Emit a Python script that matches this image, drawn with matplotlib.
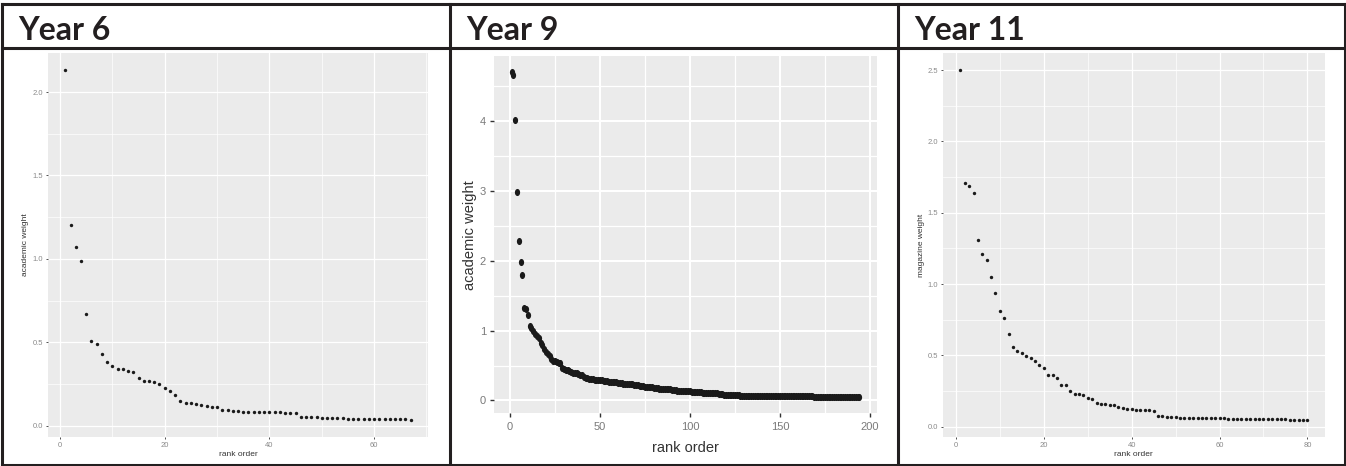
import numpy as np
import matplotlib
matplotlib.use("Agg")
import matplotlib.pyplot as plt
from matplotlib.lines import Line2D
from matplotlib.path import Path
from matplotlib.ticker import MultipleLocator, FormatStrFormatter

# weights sorted by rank, one list per year group
year6_weight = [
    2.13, 1.20, 1.07, 0.99, 0.67, 0.51, 0.49, 0.43, 0.38, 0.36,
    0.34, 0.34, 0.33, 0.32, 0.285, 0.27, 0.265, 0.26, 0.25, 0.227,
    0.21, 0.185, 0.147, 0.137, 0.135, 0.129, 0.124, 0.116, 0.114, 0.112,
    0.096, 0.094, 0.090, 0.086, 0.084, 0.082, 0.081, 0.080, 0.080, 0.079,
    0.079, 0.079, 0.078, 0.077, 0.074, 0.054, 0.052, 0.052, 0.051, 0.048,
    0.046, 0.045, 0.044, 0.043, 0.042, 0.042, 0.041, 0.041, 0.040, 0.040,
    0.039, 0.039, 0.038, 0.038, 0.037, 0.037, 0.036,
]

year9_weight = [
    4.70, 4.66, 4.02, 2.99, 2.29, 1.99, 1.79, 1.33, 1.31, 1.23,
    1.07, 1.04, 0.99, 0.95, 0.93, 0.90, 0.83, 0.79, 0.74, 0.70,
    0.66, 0.63, 0.60, 0.57, 0.56, 0.55, 0.54, 0.53, 0.47, 0.45,
    0.44, 0.43, 0.42, 0.41, 0.40, 0.39, 0.39, 0.38, 0.37, 0.36,
    0.34, 0.32, 0.32, 0.31, 0.31, 0.31, 0.30, 0.30, 0.30, 0.29,
    0.29, 0.28, 0.28, 0.28, 0.27, 0.27, 0.26, 0.26, 0.26, 0.25,
    0.25, 0.25, 0.24, 0.24, 0.24, 0.23, 0.23, 0.23, 0.22, 0.22,
    0.22, 0.21, 0.21, 0.21, 0.20, 0.20, 0.20, 0.19, 0.19, 0.18,
    0.18, 0.18, 0.17, 0.17, 0.17, 0.16, 0.16, 0.16, 0.16, 0.15,
    0.15, 0.15, 0.14, 0.14, 0.14, 0.14, 0.13, 0.13, 0.13, 0.13,
    0.12, 0.12, 0.12, 0.12, 0.12, 0.12, 0.11, 0.11, 0.11, 0.11,
    0.11, 0.11, 0.10, 0.10, 0.10, 0.09, 0.09, 0.09, 0.08, 0.08,
    0.08, 0.08, 0.08, 0.08, 0.075, 0.075, 0.075, 0.070, 0.070, 0.070,
    0.070, 0.070, 0.070, 0.070, 0.070, 0.068, 0.068, 0.068, 0.067, 0.067,
    0.067, 0.066, 0.066, 0.066, 0.065, 0.065, 0.065, 0.064, 0.064, 0.064,
    0.063, 0.063, 0.063, 0.062, 0.062, 0.062, 0.061, 0.061, 0.061, 0.060,
    0.060, 0.060, 0.059, 0.059, 0.059, 0.058, 0.058, 0.058, 0.057, 0.057,
    0.057, 0.056, 0.056, 0.056, 0.055, 0.055, 0.055, 0.054, 0.054, 0.054,
    0.053, 0.053, 0.053, 0.052, 0.052, 0.052, 0.051, 0.051, 0.051, 0.050,
    0.050, 0.050, 0.049, 0.049,
]

year11_weight = [
    2.50, 1.71, 1.69, 1.64, 1.31, 1.21, 1.17, 1.05, 0.94, 0.81,
    0.76, 0.65, 0.56, 0.53, 0.52, 0.495, 0.48, 0.46, 0.435, 0.41,
    0.36, 0.36, 0.34, 0.29, 0.29, 0.25, 0.23, 0.227, 0.22, 0.20,
    0.194, 0.164, 0.160, 0.159, 0.152, 0.152, 0.136, 0.133, 0.121, 0.121,
    0.119, 0.117, 0.117, 0.114, 0.107, 0.072, 0.072, 0.070, 0.065, 0.065,
    0.064, 0.064, 0.063, 0.063, 0.062, 0.060, 0.060, 0.059, 0.059, 0.058,
    0.058, 0.057, 0.057, 0.056, 0.056, 0.055, 0.055, 0.054, 0.054, 0.053,
    0.053, 0.052, 0.052, 0.051, 0.051, 0.050, 0.050, 0.049, 0.049, 0.048,
]

titles = ["Year 6", "Year 9", "Year 11"]
ylabels = ["academic weight", "academic weight", "magazine weight"]
xlabel = "rank order"

W, H = 1346, 466
INK = "#231f20"
fig = plt.figure(figsize=(W / 100, H / 100), dpi=100)


def fx(x):
    return x / W


def fy(y):
    return 1 - y / H


def rule(x0, y0, x1, y1):
    fig.add_artist(Line2D([fx(x0), fx(x1)], [fy(y0), fy(y1)], transform=fig.transFigure,
                          color=INK, lw=2.2, solid_capstyle="projecting"))


# table frame
rule(2, 4, 1345, 4)
rule(2, 465, 1345, 465)
rule(2, 47.5, 1345, 47.5)
for x in (2, 450, 898, 1345):
    rule(x, 4, x, 465)

for x, t in zip((18, 466, 914), titles):
    fig.text(fx(x), fy(39.5), t, family=["Lato", "DejaVu Sans"], weight="bold",
             fontsize=23, color=INK, va="baseline", ha="left")


def gg_limits(n, vals):
    lo, hi = 1, n
    ex = (hi - lo) * 0.05
    vlo, vhi = min(vals), max(vals)
    ey = (vhi - vlo) * 0.05
    return (lo - ex, hi + ex), (vlo - ey, vhi + ey)


def ggpanel(box, vals, xmaj, ymaj, yfmt, small=True):
    l, t, r, b = box
    ax = fig.add_axes([fx(l), fy(b), fx(r - l), (b - t) / H])
    n = len(vals)
    rank = np.arange(1, n + 1)
    (x0, x1), (y0, y1) = gg_limits(n, vals)
    ax.set_xlim(x0, x1)
    ax.set_ylim(y0, y1)
    ax.set_facecolor("#EBEBEB")
    for s in ax.spines.values():
        s.set_visible(False)
    ax.xaxis.set_major_locator(MultipleLocator(xmaj))
    ax.xaxis.set_minor_locator(MultipleLocator(xmaj / 2))
    ax.yaxis.set_major_locator(MultipleLocator(ymaj))
    ax.yaxis.set_minor_locator(MultipleLocator(ymaj / 2))
    ax.yaxis.set_major_formatter(FormatStrFormatter(yfmt))
    ax.set_axisbelow(True)
    if small:
        maj_lw, min_lw = 0.9, 0.5
        tick_fs, lab_fs = 5.5, 6
        fam = ["Liberation Sans", "DejaVu Sans"]
        ax.tick_params(which="major", length=1.6, width=0.6, color="#333333", pad=1.8,
                       labelsize=tick_fs, labelcolor="#8a8a8a")
    else:
        maj_lw, min_lw = 1.5, 0.9
        tick_fs, lab_fs = 8, 10.5
        fam = ["Liberation Sans Narrow", "Liberation Sans", "DejaVu Sans"]
        ax.tick_params(which="major", length=3, width=1.0, color="#333333", pad=3,
                       labelsize=tick_fs, labelcolor="#7a7a7a")
    ax.tick_params(which="minor", length=0)
    ax.grid(which="major", color="white", lw=maj_lw)
    ax.grid(which="minor", color="white", lw=min_lw)
    for lab in ax.get_xticklabels() + ax.get_yticklabels():
        lab.set_family(fam)
    ax.set_xlabel(xlabel, family=fam, fontsize=lab_fs, color="#333333")
    return ax, rank, fam, lab_fs


# Year 6
ax1, r1, fam1, fs1 = ggpanel((48, 53, 428, 437), year6_weight, 20, 0.5, "%.1f")
ax1.scatter(r1, year6_weight, s=6, color="#1a1a1a", lw=0)
ax1.set_ylabel(ylabels[0], family=fam1, fontsize=fs1, color="#333333")
ax1.xaxis.set_label_coords(0.5, -0.036)
ax1.yaxis.set_label_coords(-0.05, 0.5)

# Year 9: stretched oval dots
theta = np.linspace(0, 2 * np.pi, 40)
oval = Path(np.column_stack([np.cos(theta), 1.35 * np.sin(theta)]), closed=True)
ax2, r2, fam2, fs2 = ggpanel((494.3, 56, 876.7, 413.3), year9_weight, 50, 1, "%d", small=False)
ax2.scatter(r2, year9_weight, s=26, marker=oval, color="#1a1a1a", lw=0)
ax2.set_ylabel(ylabels[1], family=fam2, fontsize=fs2, color="#333333")
ax2.xaxis.set_label_coords(0.5, -0.077)
ax2.yaxis.set_label_coords(-0.046, 0.5)

# Year 11
ax3, r3, fam3, fs3 = ggpanel((943, 52.7, 1324.7, 437.3), year11_weight, 20, 0.5, "%.1f")
ax3.scatter(r3, year11_weight, s=6, color="#1a1a1a", lw=0)
ax3.set_ylabel(ylabels[2], family=fam3, fontsize=fs3, color="#333333")
ax3.xaxis.set_label_coords(0.5, -0.036)
ax3.yaxis.set_label_coords(-0.047, 0.5)

fig.savefig("out.png", dpi=100, facecolor="white")
